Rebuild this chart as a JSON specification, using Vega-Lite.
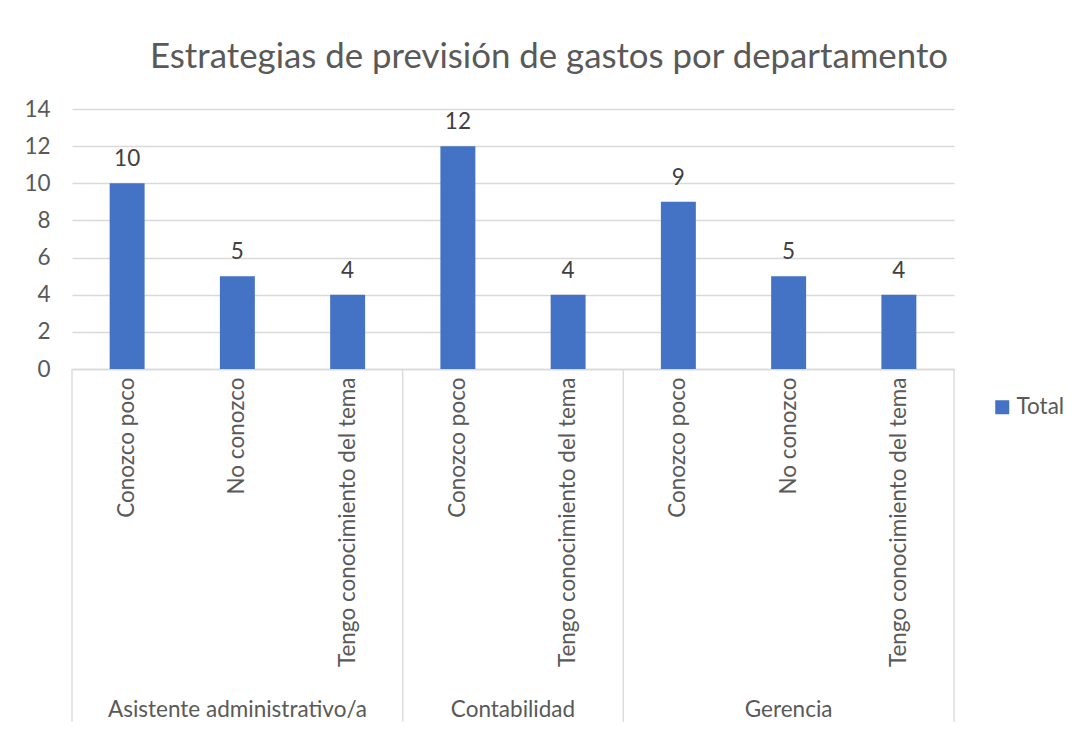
{
  "$schema": "https://vega.github.io/schema/vega-lite/v6.json",
  "width": 882,
  "height": 260,
  "autosize": {"type": "none"},
  "padding": {"left": 72, "top": 109, "right": 122, "bottom": 362},
  "background": "white",
  "config": {
    "view": {"stroke": null},
    "axisY": {
      "title": null,
      "domain": false,
      "ticks": false,
      "tickSize": 0,
      "labelOverlap": false,
      "labelFont": "Lato",
      "labelFontSize": 22.5,
      "labelColor": "#595959",
      "labelPadding": 22,
      "gridColor": "#D9D9D9",
      "gridWidth": 1.3
    }
  },
  "title": {
    "text": "Estrategias de previsión de gastos por departamento",
    "font": "Lato",
    "fontSize": 34.8,
    "fontWeight": "normal",
    "color": "#595959",
    "anchor": "middle",
    "baseline": "bottom",
    "dx": 36,
    "offset": -12
  },
  "data": {
    "values": [
      {"group": "Asistente administrativo/a", "sub": "Conozco poco", "value": 10},
      {"group": "Asistente administrativo/a", "sub": "No conozco", "value": 5},
      {"group": "Asistente administrativo/a", "sub": "Tengo conocimiento del tema", "value": 4},
      {"group": "Contabilidad", "sub": "Conozco poco", "value": 12},
      {"group": "Contabilidad", "sub": "Tengo conocimiento del tema", "value": 4},
      {"group": "Gerencia", "sub": "Conozco poco", "value": 9},
      {"group": "Gerencia", "sub": "No conozco", "value": 5},
      {"group": "Gerencia", "sub": "Tengo conocimiento del tema", "value": 4}
    ]
  },
  "transform": [{"calculate": "datum.group + '|' + datum.sub", "as": "key"}],
  "encoding": {
    "x": {
      "field": "key",
      "type": "nominal",
      "sort": null,
      "scale": {"paddingInner": 0.683, "paddingOuter": 0.3415},
      "axis": {
        "title": null,
        "labelExpr": "split(datum.value, '|')[1]",
        "labelAngle": -90,
        "labelFont": "Lato",
        "labelFontSize": 22.5,
        "labelColor": "#595959",
        "labelPadding": 8,
        "labelLimit": 400,
        "labelOverlap": false,
        "ticks": false,
        "domainColor": "#D9D9D9",
        "domainWidth": 1.3
      }
    },
    "y": {
      "field": "value",
      "type": "quantitative",
      "scale": {"domain": [0, 14], "nice": false},
      "axis": {"values": [0, 2, 4, 6, 8, 10, 12, 14]}
    }
  },
  "layer": [
    {
      "mark": {"type": "bar", "color": "#4472C4"},
      "encoding": {
        "color": {
          "datum": "Total",
          "type": "nominal",
          "scale": {"range": ["#4472C4"]},
          "legend": {
            "title": null,
            "orient": "none",
            "legendX": 919,
            "legendY": 287,
            "symbolType": "square",
            "symbolSize": 196,
            "symbolStrokeWidth": 0,
            "labelFont": "Lato",
            "labelFontSize": 22.5,
            "labelColor": "#595959",
            "labelOffset": 3
          }
        }
      }
    },
    {
      "mark": {"type": "text", "font": "Lato", "fontSize": 22.5, "color": "#404040", "baseline": "alphabetic", "dy": -17},
      "encoding": {
        "text": {"field": "value", "type": "quantitative"}
      }
    },
    {
      "transform": [{"filter": "datum.sub === 'Conozco poco'"}],
      "mark": {"type": "rule", "color": "#D9D9D9", "strokeWidth": 1.3},
      "encoding": {
        "x": {"field": "key", "type": "nominal", "sort": null, "bandPosition": -1.0773},
        "y": {"datum": 0, "type": "quantitative", "axis": {"values": [0, 2, 4, 6, 8, 10, 12, 14]}},
        "y2": {"datum": -19}
      }
    },
    {
      "transform": [{"filter": "datum.group === 'Gerencia' && datum.sub === 'Tengo conocimiento del tema'"}],
      "mark": {"type": "rule", "color": "#D9D9D9", "strokeWidth": 1.3},
      "encoding": {
        "x": {"field": "key", "type": "nominal", "sort": null, "bandPosition": 2.0773},
        "y": {"datum": 0, "type": "quantitative", "axis": {"values": [0, 2, 4, 6, 8, 10, 12, 14]}},
        "y2": {"datum": -19}
      }
    },
    {
      "transform": [{"filter": "datum.sub === 'No conozco'"}],
      "mark": {"type": "text", "font": "Lato", "fontSize": 22.5, "color": "#595959", "baseline": "middle"},
      "encoding": {
        "x": {"field": "key", "type": "nominal", "sort": null, "bandPosition": 0.5},
        "y": {"datum": -18.35, "type": "quantitative", "axis": {"values": [0, 2, 4, 6, 8, 10, 12, 14]}},
        "text": {"field": "group"}
      }
    },
    {
      "transform": [{"filter": "datum.group === 'Contabilidad' && datum.sub === 'Tengo conocimiento del tema'"}],
      "mark": {"type": "text", "font": "Lato", "fontSize": 22.5, "color": "#595959", "baseline": "middle"},
      "encoding": {
        "x": {"field": "key", "type": "nominal", "sort": null, "bandPosition": -1.0773},
        "y": {"datum": -18.35, "type": "quantitative", "axis": {"values": [0, 2, 4, 6, 8, 10, 12, 14]}},
        "text": {"field": "group"}
      }
    }
  ]
}
